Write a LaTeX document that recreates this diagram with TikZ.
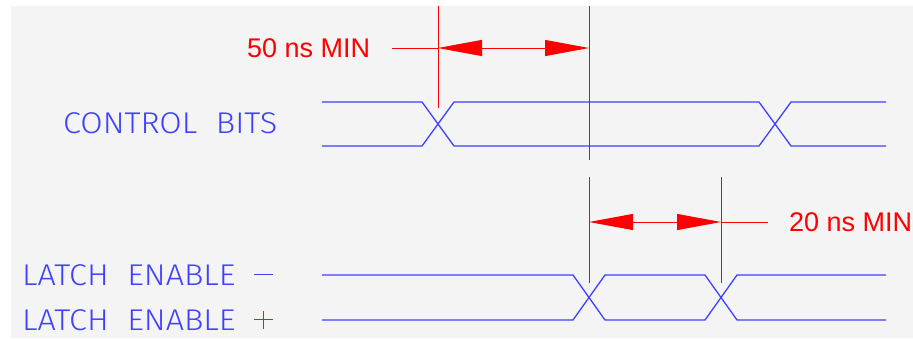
\documentclass[tikz,border=0pt]{standalone}
\usepackage{fontspec}
\setmainfont{Liberation Sans}
\newfontfamily\lblfont[FakeStretch=1.08]{Fira Sans Light}
\usetikzlibrary{arrows.meta}
\definecolor{sigblue}{RGB}{64,64,255}
\definecolor{dimred}{RGB}{255,0,0}
\definecolor{bg}{RGB}{244,244,244}
\newcommand{\wsp}{\hspace{0.62em}}
\newcommand{\thinminus}{\rule[0.33em]{0.62em}{0.045em}}
\newcommand{\thinplus}{\rlap{\rule[0.33em]{0.62em}{0.045em}}\hspace{0.2875em}\rule[0.05em]{0.045em}{0.6em}\hspace{0.2875em}}
\tikzset{
  sig/.style={draw=sigblue, line width=1.3pt},
  ext/.style={draw=dimred, line width=1pt},
  dimline/.style={draw=dimred, line width=1pt, {Triangle[length=44pt,width=16pt]}-{Triangle[length=44pt,width=16pt]}},
  dimtext/.style={text=dimred, font=\fontsize{27}{30}\selectfont, inner sep=0pt, anchor=west},
  lbl/.style={text=sigblue, font=\lblfont\fontsize{30}{32}\selectfont, inner sep=0pt, anchor=west}
}
\begin{document}
\begin{tikzpicture}[x=1pt,y=-1pt]
\useasboundingbox (0,0) rectangle (913,338);
\fill[bg] (11,6) rectangle (913,338);
% labels
\node[lbl] (cb) at (63,123) {CONTROL\wsp BITS};
\node[lbl] (lem) at (22,275) {LATCH\wsp ENABLE\wsp\thinminus};
\node[lbl] (lep) at (22,320) {LATCH\wsp ENABLE\wsp\thinplus};
% control bits signal
\draw[sig] (322,102) -- (422,102) -- (454,146) -- (759,146) -- (791,102) -- (886,102);
\draw[sig] (322,146) -- (422,146) -- (454,102) -- (759,102) -- (791,146) -- (886,146);
% latch enable signal
\draw[sig] (322,275) -- (573,275) -- (605,320) -- (705,320) -- (737,275) -- (886,275);
\draw[sig] (322,320) -- (573,320) -- (605,275) -- (705,275) -- (737,320) -- (886,320);
% extension lines
\coordinate (e1t) at (438,6);
\coordinate (e1b) at (438,108);
\coordinate (e2t) at (589,6);
\coordinate (e2b) at (589,160);
\coordinate (e3t) at (589,177);
\coordinate (e3b) at (589,283);
\coordinate (e4t) at (721,177);
\coordinate (e4b) at (721,283);
\draw[ext] (e1t) -- (e1b);
\draw[ext] (e2t) -- (e2b);
\draw[ext] (e3t) -- (e3b);
\draw[ext] (e4t) -- (e4b);
% dimension 1
\coordinate (d1a) at (438,48);
\coordinate (d1b) at (589,48);
\coordinate (d1l) at (392,48);
\draw[dimline] (d1a) -- (d1b);
\draw[ext] (d1l) -- (d1a);
\node[dimtext] (t1) at (247,48) {50 ns MIN};
% dimension 2
\coordinate (d2a) at (589,222);
\coordinate (d2b) at (721,222);
\coordinate (d2r) at (768,222);
\draw[dimline] (d2a) -- (d2b);
\draw[ext] (d2b) -- (d2r);
\node[dimtext] (t2) at (789,222) {20 ns MIN};
\end{tikzpicture}
\end{document}
